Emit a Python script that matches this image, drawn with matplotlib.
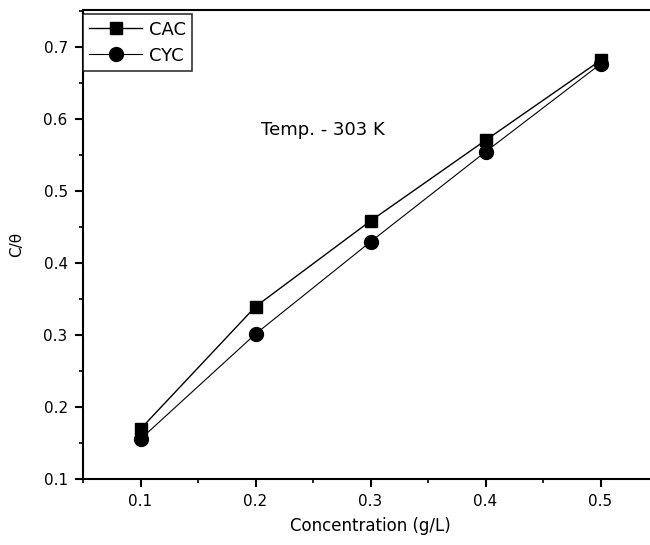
import matplotlib.pyplot as plt
from matplotlib.ticker import MultipleLocator

plt.rcParams['font.family'] = ['DejaVu Sans']

conc = [0.1, 0.2, 0.3, 0.4, 0.5]
cac = [0.169, 0.339, 0.458, 0.570, 0.681]
cyc = [0.155, 0.301, 0.429, 0.554, 0.676]

fig = plt.figure(figsize=(6.5, 5.45), dpi=100)
ax = fig.add_axes([83/650, 66.3/545, 575/650, 469.2/545])

ax.plot(conc, cac, color='black', lw=1, marker='s', ms=8.5, label='CAC')
ax.plot(conc, cyc, color='black', lw=0.8, marker='o', ms=10, label='CYC')

ax.set_xlim(0.05, 0.55)
ax.set_ylim(0.1, 0.7517)
ax.xaxis.set_major_locator(MultipleLocator(0.1))
ax.xaxis.set_minor_locator(MultipleLocator(0.05))
ax.yaxis.set_major_locator(MultipleLocator(0.1))
ax.yaxis.set_minor_locator(MultipleLocator(0.05))
ax.tick_params(which='major', direction='out', length=6, width=1.5, labelsize=11, pad=5)
ax.tick_params(which='minor', direction='out', length=3, width=1.2)
ax.tick_params(top=False, right=False)
for s in ax.spines.values():
    s.set_linewidth(1.5)

ax.set_xlabel('Concentration (g/L)', fontsize=12, labelpad=6)
ax.set_ylabel('C/θ', fontsize=11, labelpad=14)

ax.text(0.205, 0.584, 'Temp. - 303 K', fontsize=13, ha='left', va='center')

leg = ax.legend(loc='upper left', bbox_to_anchor=(0.0, 0.99), fontsize=13,
                frameon=True, fancybox=False, edgecolor='black',
                borderaxespad=0.0, handlelength=2.9, borderpad=0.35,
                labelspacing=0.45, handletextpad=0.4)
leg.get_frame().set_linewidth(1.2)

fig.savefig('out.png', dpi=100)
